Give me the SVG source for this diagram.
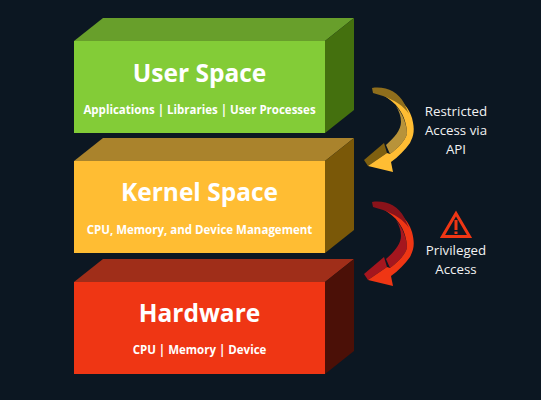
<svg xmlns="http://www.w3.org/2000/svg" width="541" height="400" viewBox="0 0 541 400">
<style>
text{font-family:"Open Sans","Noto Sans","Liberation Sans",sans-serif;fill:#fff;text-anchor:middle}
.t{font-size:24.500px;font-weight:700}
.s{font-size:11.500px;font-weight:700}
.l{font-size:13.300px;fill:#f2f2f2}
</style>
<defs>
<path id="top" d="M372,88 C386,86 398,92 404,103 L409,114 C404,106 394,100 383,96 L373,93 Z"/>
<path id="band" d="M396,106 C403,114 407,125 407,134 C405,141 398,148 390,154 L386,145 C394,138 401,130 401,122 C401,116 399,111 396,106 Z"/>
<polygon id="headback" points="364,160 384,143 387,153 368,166"/>
<path id="front" d="M383,95 C396,95 408,104 412,118 C415,130 414,135 410,143 C405,150 398,157 391,162 L393,172 L368,166 L387,153 L390,154 C398,148 405,141 407,134 C407,125 404,116 399,109 C395,103 389,99 383,95 Z"/>
</defs>
<rect width="541" height="400" fill="#0c1722"/>
<g id="user-space">
<polygon points="74,41 103,18 354,18 325,41" fill="#689f2b"/>
<polygon points="325,41 354,18 354,110 325,133" fill="#44700e"/>
<rect x="74" y="41" width="251" height="92" fill="#83cc37"/>
<text class="t" x="199.500" y="82">User Space</text>
<text class="s" x="199.500" y="114">Applications | Libraries | User Processes</text>
</g>
<g id="kernel-space">
<polygon points="74,161 103,138 354,138 325,161" fill="#aa832c"/>
<polygon points="325,161 354,138 354,230 325,253" fill="#7a5808"/>
<rect x="74" y="161" width="251" height="92" fill="#ffbd33"/>
<text class="t" x="199.500" y="201">Kernel Space</text>
<text class="s" x="199.500" y="234">CPU, Memory, and Device Management</text>
</g>
<g id="hardware">
<polygon points="74,282 103,259 354,259 325,282" fill="#a02e19"/>
<polygon points="325,282 354,259 354,351 325,374" fill="#4b1007"/>
<rect x="74" y="282" width="251" height="92" fill="#ef3614"/>
<text class="t" x="199.500" y="322">Hardware</text>
<text class="s" x="199.500" y="354">CPU | Memory | Device</text>
</g>
<g id="connectors">
<g id="arrow-restricted">
<use href="#band" fill="#b8933a"/>
<use href="#headback" fill="#7f6010"/>
<use href="#front" fill="#ffbd33"/>
<use href="#top" fill="#8f6e1c"/>
</g>
<g id="arrow-privileged" transform="translate(0,114)">
<use href="#band" fill="#a5161e"/>
<use href="#headback" fill="#a5161e"/>
<use href="#front" fill="#ef3614"/>
<use href="#top" fill="#8a131a"/>
</g>
</g>
<g id="label-restricted">
<text class="l" x="456" y="116">Restricted</text>
<text class="l" x="456" y="135">Access via</text>
<text class="l" x="456" y="154">API</text>
</g>
<g id="label-privileged">
<path d="M456,213.500 L469.500,236.500 L442.500,236.500 Z" fill="none" stroke="#ef3614" stroke-width="3"/>
<rect x="454.500" y="220" width="3" height="10" fill="#ef3614"/>
<rect x="454.500" y="231.500" width="3" height="2.500" fill="#ef3614"/>
<text class="l" x="456" y="255">Privileged</text>
<text class="l" x="456" y="274">Access</text>
</g>
</svg>
